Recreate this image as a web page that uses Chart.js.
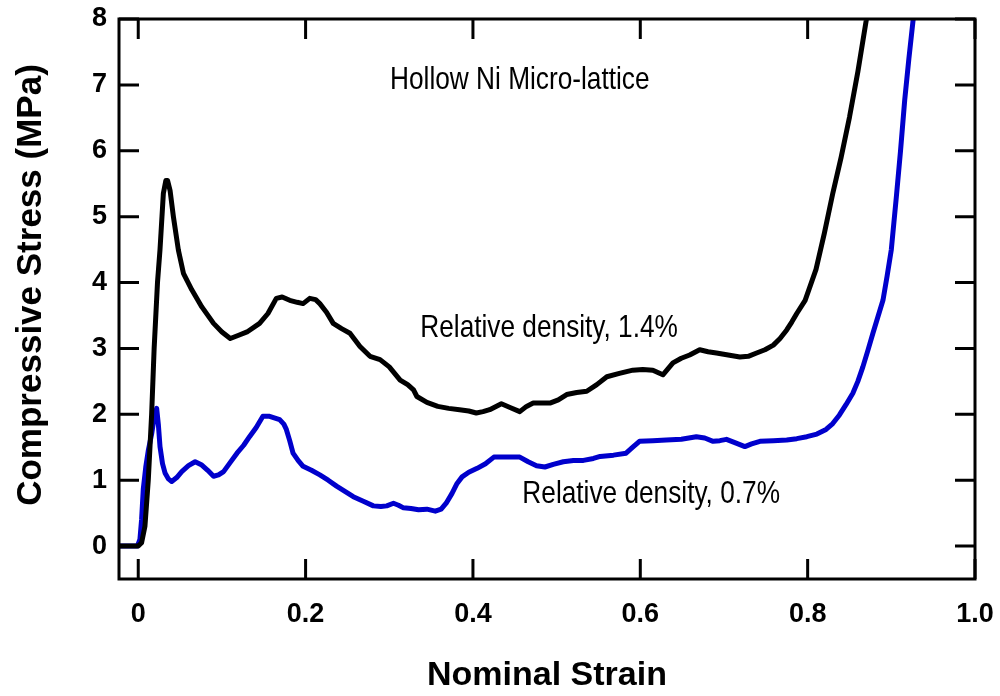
<!DOCTYPE html>
<html>
<head>
<meta charset="utf-8">
<script src="https://cdn.jsdelivr.net/npm/chart.js@4.4.1/dist/chart.umd.min.js"></script>
<style>
  html, body { margin: 0; padding: 0; background: #ffffff; }
  #wrap { width: 1000px; height: 696px; position: relative; }
</style>
</head>
<body>
<div id="wrap"><canvas id="c" width="1000" height="696"></canvas></div>
<script>
// ---- data ----
const strainDense = [-0.023, 0.0, 0.004, 0.008, 0.012, 0.016, 0.019, 0.023, 0.026, 0.030,
  0.033, 0.035, 0.038, 0.042, 0.048, 0.054, 0.064, 0.076, 0.090, 0.100,
  0.110, 0.120, 0.130, 0.145, 0.155, 0.165, 0.172, 0.181, 0.190, 0.197,
  0.205, 0.212, 0.217, 0.225, 0.233, 0.243, 0.253, 0.265, 0.277, 0.289,
  0.300, 0.313, 0.322, 0.329, 0.333, 0.345, 0.358, 0.371, 0.384, 0.395,
  0.404, 0.412, 0.420, 0.434, 0.445, 0.456, 0.464, 0.472, 0.482, 0.492,
  0.502, 0.512, 0.524, 0.536, 0.548, 0.560, 0.575, 0.591, 0.603, 0.615,
  0.627, 0.639, 0.649, 0.659, 0.671, 0.681, 0.691, 0.705, 0.719, 0.729,
  0.739, 0.749, 0.759, 0.767, 0.775, 0.781, 0.787, 0.797, 0.810, 0.820,
  0.830, 0.840, 0.850, 0.860, 0.870, 0.876];
const stressDense = [0, 0, 0.05, 0.3, 1.0, 2.0, 3.0, 4.0, 4.5, 5.35,
  5.55, 5.55, 5.4, 5.0, 4.49, 4.14, 3.89, 3.63, 3.38, 3.25,
  3.15, 3.2, 3.25, 3.38, 3.53, 3.76, 3.78, 3.73, 3.70, 3.68,
  3.76, 3.74, 3.68, 3.55, 3.38, 3.30, 3.23, 3.03, 2.88, 2.83,
  2.72, 2.52, 2.45, 2.37, 2.27, 2.18, 2.12, 2.09, 2.07, 2.05,
  2.02, 2.04, 2.07, 2.16, 2.10, 2.04, 2.12, 2.17, 2.17, 2.17,
  2.22, 2.30, 2.33, 2.35, 2.45, 2.57, 2.62, 2.67, 2.68, 2.67,
  2.60, 2.78, 2.85, 2.90, 2.98, 2.95, 2.93, 2.90, 2.87, 2.88,
  2.93, 2.98, 3.05, 3.15, 3.28, 3.40, 3.53, 3.73, 4.2, 4.75,
  5.35, 5.9, 6.51, 7.2, 7.98, 8.6];

const strainLight = [-0.023, -0.001, 0.002, 0.004, 0.006, 0.009, 0.012, 0.016, 0.019, 0.022,
  0.024, 0.026, 0.029, 0.032, 0.036, 0.040, 0.046, 0.052, 0.060, 0.068,
  0.076, 0.083, 0.090, 0.096, 0.102, 0.110, 0.118, 0.126, 0.133, 0.141,
  0.149, 0.157, 0.169, 0.174, 0.177, 0.181, 0.185, 0.191, 0.197, 0.207,
  0.217, 0.227, 0.237, 0.247, 0.257, 0.269, 0.281, 0.290, 0.297, 0.305,
  0.311, 0.317, 0.326, 0.335, 0.345, 0.355, 0.362, 0.368, 0.375, 0.381,
  0.387, 0.395, 0.405, 0.415, 0.425, 0.440, 0.456, 0.466, 0.476, 0.486,
  0.496, 0.508, 0.520, 0.532, 0.544, 0.552, 0.568, 0.583, 0.591, 0.599,
  0.615, 0.631, 0.649, 0.667, 0.677, 0.687, 0.695, 0.703, 0.713, 0.725,
  0.733, 0.743, 0.759, 0.775, 0.787, 0.799, 0.811, 0.822, 0.830, 0.838,
  0.846, 0.854, 0.860, 0.866, 0.872, 0.878, 0.884, 0.890, 0.895, 0.900,
  0.906, 0.911, 0.916, 0.921, 0.926, 0.930];
const stressLight = [0, 0, 0.1, 0.4, 0.86, 1.2, 1.45, 1.7, 1.95, 2.09,
  1.85, 1.51, 1.25, 1.11, 1.02, 0.98, 1.04, 1.13, 1.22, 1.28,
  1.23, 1.15, 1.06, 1.08, 1.13, 1.27, 1.41, 1.53, 1.66, 1.80,
  1.97, 1.97, 1.92, 1.85, 1.77, 1.60, 1.41, 1.30, 1.21, 1.15,
  1.08, 1.00, 0.91, 0.83, 0.75, 0.68, 0.61, 0.60, 0.61, 0.65,
  0.62, 0.58, 0.57, 0.55, 0.56, 0.53, 0.56, 0.65, 0.80, 0.95,
  1.05, 1.12, 1.18, 1.25, 1.35, 1.35, 1.35, 1.28, 1.22, 1.20,
  1.24, 1.28, 1.30, 1.30, 1.33, 1.36, 1.38, 1.41, 1.50, 1.59,
  1.60, 1.61, 1.62, 1.66, 1.64, 1.59, 1.60, 1.62, 1.57, 1.51,
  1.55, 1.59, 1.60, 1.61, 1.63, 1.66, 1.70, 1.77, 1.86, 1.99,
  2.15, 2.32, 2.50, 2.72, 2.97, 3.23, 3.48, 3.73, 4.1, 4.5,
  5.3, 6.0, 6.77, 7.4, 7.98, 8.5];

const xTickValues = [0, 0.2, 0.4, 0.6, 0.8, 1.0];
const xTickLabels = ['0', '0.2', '0.4', '0.6', '0.8', '1.0'];
const yTickValues = [0, 1, 2, 3, 4, 5, 6, 7, 8];
const yTickLabels = ['0', '1', '2', '3', '4', '5', '6', '7', '8'];

const seriesNames = ['Relative density, 1.4%', 'Relative density, 0.7%'];
const chartTitle = 'Hollow Ni Micro-lattice';
const xTitle = 'Nominal Strain';
const yTitle = 'Compressive Stress (MPa)';

// ---- build chart ----
const toPoints = (xs, ys) => xs.map((x, i) => ({ x: x, y: ys[i] }));

const notes = [
  { text: chartTitle, x: 0.456, y: 7.07 },
  { text: seriesNames[0], x: 0.491, y: 3.31 },
  { text: seriesNames[1], x: 0.613, y: 0.78 }
];

const framePlugin = {
  id: 'frame',
  afterDraw(chart) {
    const { ctx, chartArea: a, scales } = chart;
    const xs = scales.x, ys = scales.y;
    ctx.save();
    ctx.strokeStyle = '#000';
    ctx.lineWidth = 3;
    ctx.lineCap = 'butt';
    const tl = 20;
    ctx.beginPath();
    xTickValues.forEach(v => {
      const px = xs.getPixelForValue(v);
      ctx.moveTo(px, a.bottom); ctx.lineTo(px, a.bottom - tl);
      ctx.moveTo(px, a.top); ctx.lineTo(px, a.top + tl);
    });
    yTickValues.forEach(v => {
      const py = ys.getPixelForValue(v);
      ctx.moveTo(a.left, py); ctx.lineTo(a.left + tl, py);
      ctx.moveTo(a.right, py); ctx.lineTo(a.right - tl, py);
    });
    ctx.stroke();
    ctx.lineJoin = 'miter';
    ctx.strokeRect(a.left, a.top, a.right - a.left, a.bottom - a.top);

    // annotations (condensed sans)
    ctx.fillStyle = '#000';
    ctx.font = '32px "Liberation Sans", Arial, sans-serif';
    ctx.textAlign = 'center';
    ctx.textBaseline = 'middle';
    notes.forEach(n => {
      ctx.save();
      ctx.translate(xs.getPixelForValue(n.x), ys.getPixelForValue(n.y));
      ctx.scale(0.82, 1);
      ctx.fillText(n.text, 0, 0);
      ctx.restore();
    });

    // y title
    ctx.font = 'bold 35px "Liberation Sans", Arial, sans-serif';
    ctx.translate(31, 285);
    ctx.rotate(-Math.PI / 2);
    ctx.fillText(yTitle, 0, 0);
    ctx.restore();
  }
};

const zeroPad = s => { s.paddingLeft = 0; s.paddingRight = 0; s.paddingTop = 0; s.paddingBottom = 0; };

new Chart(document.getElementById('c'), {
  type: 'line',
  data: {
    datasets: [
      {
        label: seriesNames[0],
        data: toPoints(strainDense, stressDense),
        borderColor: '#000000',
        borderWidth: 5,
        pointRadius: 0,
        tension: 0,
        borderJoinStyle: 'round',
        borderCapStyle: 'round',
        fill: false
      },
      {
        label: seriesNames[1],
        data: toPoints(strainLight, stressLight),
        borderColor: '#0000CC',
        borderWidth: 5,
        pointRadius: 0,
        tension: 0,
        borderJoinStyle: 'round',
        borderCapStyle: 'round',
        fill: false
      }
    ]
  },
  options: {
    responsive: false,
    animation: false,
    devicePixelRatio: 1,
    layout: { padding: { top: 19, right: 25, left: 0, bottom: 0 } },
    plugins: { legend: { display: false }, tooltip: { enabled: false }, title: { display: false } },
    scales: {
      x: {
        type: 'linear',
        min: -0.023,
        max: 1.0,
        afterBuildTicks: s => { s.ticks = xTickValues.map(v => ({ value: v })); },
        afterFit: s => { s.height = 117; zeroPad(s); },
        grid: { display: false, drawTicks: false },
        border: { display: false },
        ticks: {
          padding: 19,
          color: '#000',
          font: { family: '"Liberation Sans", Arial, sans-serif', size: 27, weight: 'bold' },
          callback: (v, i) => xTickLabels[i]
        },
        title: {
          display: true,
          text: xTitle,
          color: '#000',
          font: { family: '"Liberation Sans", Arial, sans-serif', size: 34, weight: 'bold' },
          padding: { top: 0, bottom: 0 }
        }
      },
      y: {
        type: 'linear',
        min: -0.5,
        max: 8,
        afterBuildTicks: s => { s.ticks = yTickValues.map(v => ({ value: v })); },
        afterFit: s => { s.width = 119; zeroPad(s); },
        grid: { display: false, drawTicks: false },
        border: { display: false },
        ticks: {
          padding: 12,
          color: '#000',
          font: { family: '"Liberation Sans", Arial, sans-serif', size: 27, weight: 'bold' },
          callback: (v, i) => yTickLabels[i]
        }
      }
    }
  },
  plugins: [framePlugin]
});
</script>
</body>
</html>
